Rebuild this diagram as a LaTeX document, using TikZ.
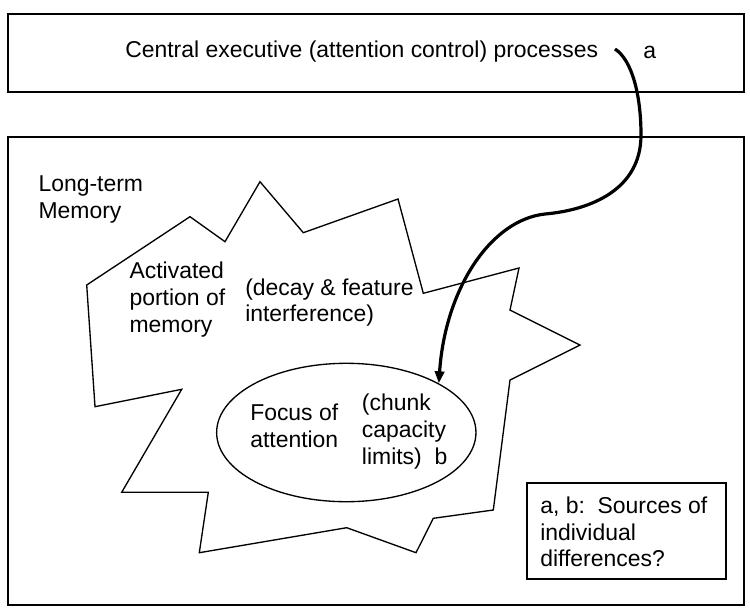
\documentclass[tikz,border=0pt]{standalone}
\usepackage{fontspec}
\setmainfont{Liberation Sans}
\usetikzlibrary{arrows.meta,shapes.geometric}
\begin{document}
\begin{tikzpicture}[x=0.75pt,y=0.75pt,yscale=-1,xscale=1,
  frame/.style={draw,line width=1.5pt},
  outline/.style={draw,line width=1pt,line join=miter},
  txt/.style={anchor=base west,inner sep=0pt,align=left,font=\fontsize{17.2}{20}\selectfont},
  attn/.style={line width=2.4pt,-{Triangle[length=9pt,width=7pt]}}]
\useasboundingbox (0,0) rectangle (750,608);

%Shape: Rectangle [executive box]
\draw [frame] (8,14) rectangle (744,92);
%Shape: Rectangle [long-term memory box]
\draw [frame] (8,137) rectangle (744,605);
%Shape: Polygon [activated portion]
\draw [outline] (86.7,285) -- (190,216.7) -- (225,241.7) -- (260,181.7) -- (303.3,232.7) -- (398,199) -- (423.3,293.3) -- (519,268) -- (510,310) -- (580,345) -- (510,380) -- (493.3,510) -- (433.3,518.3) -- (416,552.7) -- (346.7,527.7) -- (199.3,552.7) -- (208.3,492.3) -- (121.7,492.3) -- (181.7,389.3) -- (95,406.7) -- cycle ;
%Shape: Ellipse [focus of attention]
\node [ellipse,outline,minimum width=194.5pt,minimum height=103.8pt,inner sep=0pt] (focus) at (346.3,432.5) {};
%Shape: Rectangle [note box]
\draw [frame] (527,483) rectangle (726,579);

% Text Node (base = last line)
\node [txt] (cexec) at (125,57.3) {Central executive (attention control) processes};
% Text Node
\node [txt] (srca) at (643,58.3) {a};
% Text Node
\node [txt] (ltm) at (38.3,218.6) {Long-term\\Memory};
% Text Node
\node [txt] (actv) at (129.3,332.3) {Activated\\portion of\\memory};
% Text Node
\node [txt] (decay) at (245,321.9) {(decay \& feature\\interference)};
% Text Node
\node [txt] (foc) at (250,447) {Focus of\\attention};
% Text Node
\node [txt] (chunk) at (361.7,464) {(chunk\\capacity\\limits)\ \ b};
% Text Node
\node [txt] (note) at (540,566.7) {a, b:\ \ Sources of\\individual\\differences?};

%Curve Lines [attention control]
\coordinate (astart) at (615,49);
\draw [attn] (astart) .. controls (632,60) and (641,95) .. (641,135) .. controls (641,190) and (590,210) .. (545,214) .. controls (490,220) and (445,290) .. (focus.28) ;

\end{tikzpicture}
\end{document}
